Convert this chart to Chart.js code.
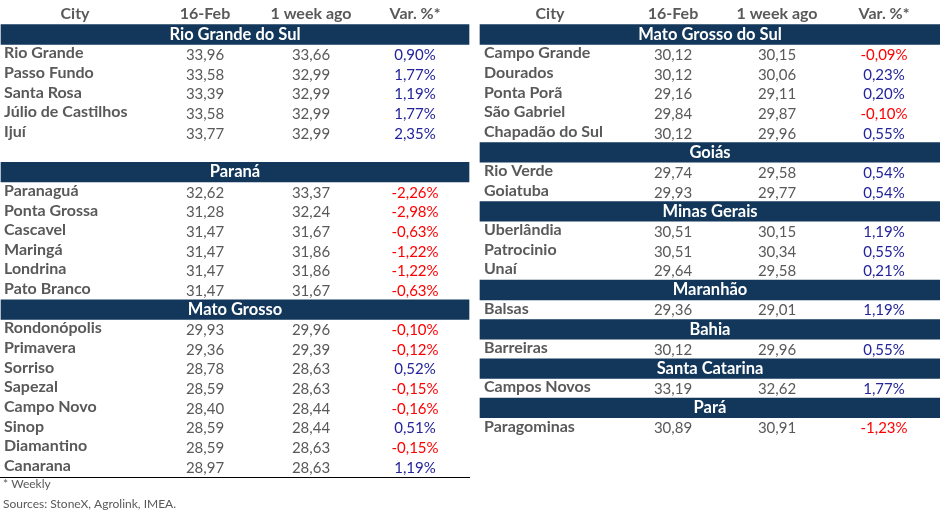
<!DOCTYPE html>
<html lang="en">
<head>
    <meta charset="UTF-8">
    <title>Soybean prices by city</title>
    <script src="https://cdn.jsdelivr.net/npm/chart.js"></script>
    <style>
        html, body { margin: 0; padding: 0; background: #fff; }
        #wrap { width: 940px; height: 517px; }
    </style>
</head>
<body>
    <div id="wrap"><canvas id="priceTable" width="940" height="517"></canvas></div>
    <script>
        // column headers and footer
        const columns = ['City', '16-Feb', '1 week ago', 'Var. %*'];
        const notes = ['* Weekly', 'Sources: StoneX, Agrolink, IMEA.'];

        // left table
        const leftStates = ['Rio Grande do Sul', 'Paraná', 'Mato Grosso'];
        const leftSizes = [5, 6, 8];
        const leftCities = ['Rio Grande', 'Passo Fundo', 'Santa Rosa', 'Júlio de Castilhos', 'Ijuí',
            'Paranaguá', 'Ponta Grossa', 'Cascavel', 'Maringá', 'Londrina', 'Pato Branco',
            'Rondonópolis', 'Primavera', 'Sorriso', 'Sapezal', 'Campo Novo', 'Sinop', 'Diamantino', 'Canarana'];
        const leftToday = [33.96, 33.58, 33.39, 33.58, 33.77,
            32.62, 31.28, 31.47, 31.47, 31.47, 31.47,
            29.93, 29.36, 28.78, 28.59, 28.40, 28.59, 28.59, 28.97];
        const leftWeekAgo = [33.66, 32.99, 32.99, 32.99, 32.99,
            33.37, 32.24, 31.67, 31.86, 31.86, 31.67,
            29.96, 29.39, 28.63, 28.63, 28.44, 28.44, 28.63, 28.63];
        const leftChange = [0.90, 1.77, 1.19, 1.77, 2.35,
            -2.26, -2.98, -0.63, -1.22, -1.22, -0.63,
            -0.10, -0.12, 0.52, -0.15, -0.16, 0.51, -0.15, 1.19];

        // right table
        const rightStates = ['Mato Grosso do Sul', 'Goiás', 'Minas Gerais', 'Maranhão', 'Bahia', 'Santa Catarina', 'Pará'];
        const rightSizes = [5, 2, 3, 1, 1, 1, 1];
        const rightCities = ['Campo Grande', 'Dourados', 'Ponta Porã', 'São Gabriel', 'Chapadão do Sul',
            'Rio Verde', 'Goiatuba', 'Uberlândia', 'Patrocinio', 'Unaí',
            'Balsas', 'Barreiras', 'Campos Novos', 'Paragominas'];
        const rightToday = [30.12, 30.12, 29.16, 29.84, 30.12,
            29.74, 29.93, 30.51, 30.51, 29.64,
            29.36, 30.12, 33.19, 30.89];
        const rightWeekAgo = [30.15, 30.06, 29.11, 29.87, 29.96,
            29.58, 29.77, 30.15, 30.34, 29.58,
            29.01, 29.96, 32.62, 30.91];
        const rightChange = [-0.09, 0.23, 0.20, -0.10, 0.55,
            0.54, 0.54, 1.19, 0.55, 0.21,
            1.19, 0.55, 1.77, -1.23];

        // layout (x in page px units of the x scale)
        const leftCols = { span: [1, 469], city: 4, head: [75, 205, 311, 415] };
        const rightCols = { span: [480, 940], city: 484, head: [550, 673, 777, 884] };
        const leftGaps = [1, 0, 0];
        const rightGaps = [0, 0, 0, 0, 0, 0, 0];
        const totalRows = 26;

        const NAVY = '#12375A';
        const GREY = '#595959';
        const RED = '#FF0000';
        const BLUE = '#23239B';
        const FONT = 'Lato, "Open Sans", sans-serif';

        function buildRows(states, sizes, gaps, cities, today, week, change) {
            const bands = [], lines = [];
            let row = 1, k = 0;
            states.forEach((s, i) => {
                bands.push({ row: row, name: s });
                row++;
                for (let j = 0; j < sizes[i]; j++, k++, row++) {
                    lines.push({ row: row, city: cities[k], today: today[k], week: week[k], change: change[k] });
                }
                row += gaps[i];
            });
            return { bands, lines, last: row - 1 };
        }

        const left = buildRows(leftStates, leftSizes, leftGaps, leftCities, leftToday, leftWeekAgo, leftChange);
        const right = buildRows(rightStates, rightSizes, rightGaps, rightCities, rightToday, rightWeekAgo, rightChange);

        const rowLabels = Array.from({ length: totalRows }, (_, i) => String(i));
        const fmt = v => v.toFixed(2).replace('.', ',');

        const tableText = {
            id: 'tableText',
            afterDatasetsDraw(chart) {
                const { ctx, scales: { x, y } } = chart;
                ctx.save();
                ctx.textBaseline = 'middle';

                const drawSide = (side, cols) => {
                    // header row
                    ctx.font = 'bold 16px ' + FONT;
                    ctx.fillStyle = GREY;
                    ctx.textAlign = 'center';
                    columns.forEach((c, i) => ctx.fillText(c, x.getPixelForValue(cols.head[i]), y.getPixelForValue(0) - 1));

                    // band titles
                    ctx.font = 'bold 16.5px ' + FONT;
                    ctx.fillStyle = '#FFFFFF';
                    side.bands.forEach(b => {
                        const cx = (x.getPixelForValue(cols.span[0]) + x.getPixelForValue(cols.span[1])) / 2;
                        ctx.fillText(b.name, cx, y.getPixelForValue(b.row));
                    });

                    // city rows
                    side.lines.forEach(l => {
                        const py = y.getPixelForValue(l.row);
                        ctx.font = 'bold 16px ' + FONT;
                        ctx.fillStyle = GREY;
                        ctx.textAlign = 'left';
                        ctx.fillText(l.city, x.getPixelForValue(cols.city), py - 1);
                        ctx.font = '15px ' + FONT;
                        ctx.textAlign = 'center';
                        ctx.fillText(fmt(l.today), x.getPixelForValue(cols.head[1]), py + 1);
                        ctx.fillText(fmt(l.week), x.getPixelForValue(cols.head[2]), py + 1);
                        ctx.fillStyle = l.change < 0 ? RED : BLUE;
                        ctx.fillText(fmt(l.change) + '%', x.getPixelForValue(cols.head[3]), py + 1);
                    });
                };
                drawSide(left, leftCols);
                drawSide(right, rightCols);

                // rule under the left table
                const ly = Math.round((y.getPixelForValue(left.last) + y.getPixelForValue(left.last + 1)) / 2) + 0.5;
                ctx.strokeStyle = '#000';
                ctx.lineWidth = 1;
                ctx.beginPath();
                ctx.moveTo(x.getPixelForValue(0), ly);
                ctx.lineTo(x.getPixelForValue(leftCols.span[1] + 1), ly);
                ctx.stroke();

                // footnotes
                ctx.font = '12px ' + FONT;
                ctx.fillStyle = GREY;
                ctx.textAlign = 'left';
                notes.forEach((n, i) => ctx.fillText(n, x.getPixelForValue(3), y.getPixelForValue(left.last + 1 + i) - 2));
                ctx.restore();
            }
        };

        const toBars = (side, cols) => side.bands.map(b => ({ y: String(b.row), x: cols.span }));

        new Chart(document.getElementById('priceTable'), {
            type: 'bar',
            data: {
                labels: rowLabels,
                datasets: [
                    { label: 'left bands', data: toBars(left, leftCols), backgroundColor: NAVY },
                    { label: 'right bands', data: toBars(right, rightCols), backgroundColor: NAVY }
                ]
            },
            options: {
                indexAxis: 'y',
                responsive: false,
                animation: false,
                grouped: false,
                barPercentage: 1,
                categoryPercentage: 1,
                layout: { padding: { top: 5, bottom: 1, left: 0, right: 0 } },
                plugins: { legend: { display: false }, tooltip: { enabled: false } },
                scales: {
                    x: { type: 'linear', min: 0, max: 940, display: false },
                    y: { type: 'category', display: false }
                }
            },
            plugins: [tableText]
        });
    </script>
</body>
</html>
